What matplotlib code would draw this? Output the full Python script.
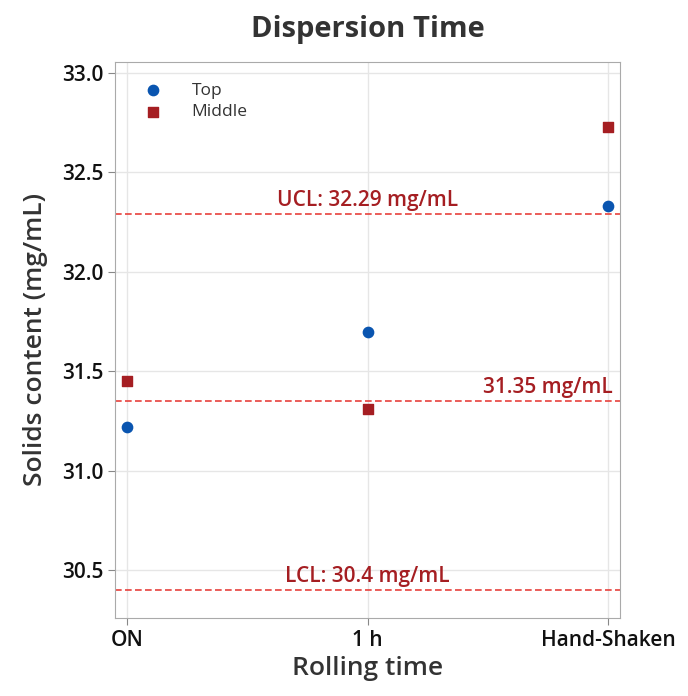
import matplotlib.pyplot as plt

plt.rcParams['font.family'] = ['Open Sans', 'DejaVu Sans']

categories = ["ON", "1 h", "Hand-Shaken"]
top_values = [31.22, 31.70, 32.33]
middle_values = [31.45, 31.31, 32.73]
ucl = 32.29
center = 31.35
lcl = 30.4

text_color = "#333333"
line_red = "#e8413c"
label_red = "#a51e22"

fig = plt.figure(figsize=(6.88, 6.96), dpi=100)
ax = fig.add_axes([115 / 688, 78 / 696, 505 / 688, 556 / 696])

x = list(range(len(categories)))
ax.scatter(x, top_values, marker="o", s=55, color="#0a55b0", label="Top", zorder=3)
ax.scatter(x, middle_values, marker="s", s=50, color="#a51e22", label="Middle", zorder=3)

for val in (ucl, center, lcl):
    ax.axhline(val, color=line_red, linestyle="--", linewidth=1.2, dashes=(4, 2), zorder=2)

lbl = dict(color=label_red, fontsize=15, fontweight="semibold", va="bottom")
ax.text(1, ucl + 0.015, f"UCL: {ucl} mg/mL", ha="center", **lbl)
ax.text(2.02, center + 0.015, f"{center} mg/mL", ha="right", **lbl)
ax.text(1, lcl + 0.015, f"LCL: {lcl} mg/mL", ha="center", **lbl)

ax.set_xlim(-0.05, 2.05)
ax.set_ylim(30.26, 33.055)
ax.set_xticks(x)
ax.set_xticklabels(categories, fontweight="semibold")
ax.set_yticks([30.5, 31.0, 31.5, 32.0, 32.5, 33.0])
ax.set_yticklabels(["30.5", "31.0", "31.5", "32.0", "32.5", "33.0"], fontweight="semibold")
ax.tick_params(labelsize=15, colors="#888888", labelcolor="#111111", length=5)
ax.grid(True, color="#e6e6e6", linewidth=1)
ax.set_axisbelow(True)
for sp in ax.spines.values():
    sp.set_color("#aaaaaa")

ax.set_xlabel("Rolling time", fontsize=19, color=text_color, fontweight="semibold")
ax.set_ylabel("Solids content (mg/mL)", fontsize=19, color=text_color, fontweight="semibold",
              labelpad=10)
ax.set_title("Dispersion Time", fontsize=21, color=text_color, pad=18, fontweight="bold")

leg = ax.legend(loc="upper left", frameon=False, fontsize=12.5, handletextpad=1.2,
                labelspacing=0.3, borderaxespad=0.8)
for t in leg.get_texts():
    t.set_color(text_color)

fig.savefig("out.png", dpi=100)
